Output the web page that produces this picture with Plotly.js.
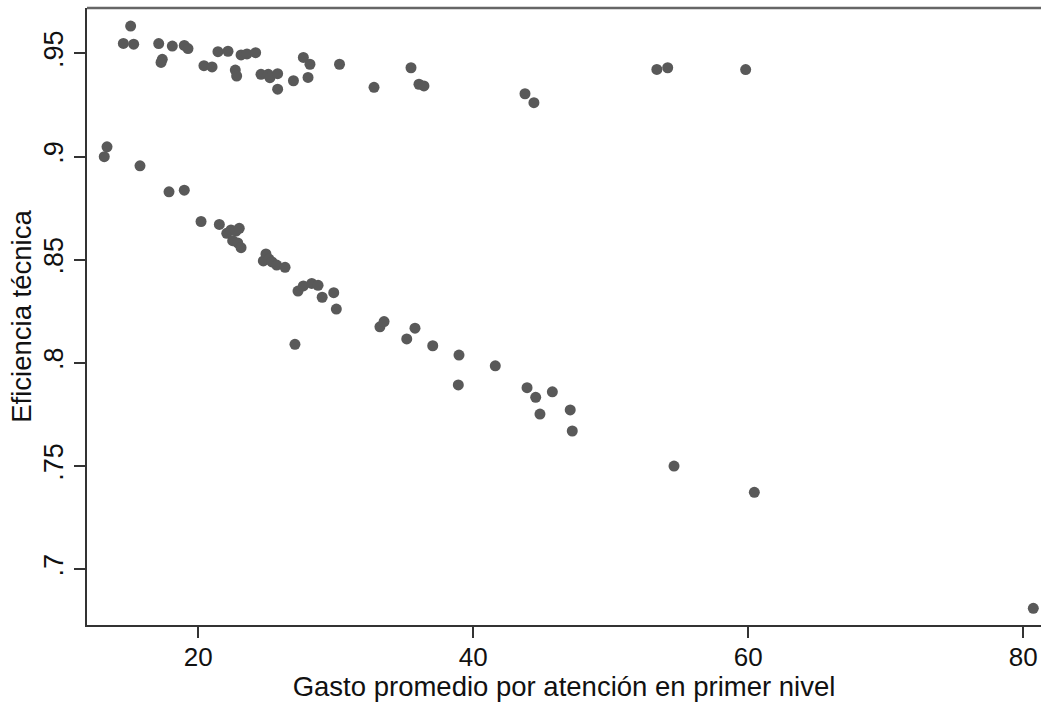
<!DOCTYPE html>
<html>
<head>
<meta charset="utf-8">
<script src="https://cdn.plot.ly/plotly-3.0.1.min.js"></script>
<style>
  html, body { margin: 0; padding: 0; background: #fff; }
  #chart { width: 1041px; height: 702px; }
</style>
</head>
<body>
<div id="chart"></div>
<script>
// Gasto promedio por atención en primer nivel (x) vs Eficiencia técnica (y)
const gasto = [
  15.08, 14.55, 15.30, 17.12, 18.11, 18.98, 19.25, 17.38, 17.29, 20.41,
  21.00, 21.43, 22.16, 23.11, 23.54, 24.17, 22.69, 22.79, 24.56, 25.09,
  25.21, 25.77, 25.77, 26.92, 27.64, 28.12, 27.98, 30.27, 32.78, 35.47,
  36.05, 36.41, 43.76, 44.41, 53.35, 54.14, 59.81,
  13.36, 13.16, 15.76, 17.87, 18.98, 20.20, 21.53, 22.07, 22.38, 22.74,
  22.98, 22.50, 22.87, 23.11, 24.92, 24.73, 25.14, 25.36, 25.70, 26.31,
  27.25, 27.64, 28.25, 28.71, 29.01, 29.85, 30.04, 27.03, 33.21, 33.51,
  35.16, 35.76, 37.05, 38.96, 38.91, 41.60, 43.91, 44.54, 45.75, 44.85,
  47.05, 47.20, 54.60, 60.44, 80.73
];
const eficiencia = [
  0.9632, 0.9548, 0.9544, 0.9547, 0.9535, 0.9538, 0.9523, 0.9471, 0.9456, 0.9440,
  0.9434, 0.9508, 0.9510, 0.9492, 0.9497, 0.9503, 0.9419, 0.9390, 0.9398, 0.9398,
  0.9382, 0.9401, 0.9326, 0.9367, 0.9480, 0.9447, 0.9383, 0.9447, 0.9335, 0.9430,
  0.9350, 0.9342, 0.9304, 0.9261, 0.9422, 0.9430, 0.9421,
  0.9047, 0.8999, 0.8955, 0.8829, 0.8837, 0.8685, 0.8671, 0.8628, 0.8644, 0.8639,
  0.8652, 0.8592, 0.8581, 0.8558, 0.8528, 0.8494, 0.8503, 0.8489, 0.8474, 0.8463,
  0.8348, 0.8373, 0.8385, 0.8376, 0.8318, 0.8340, 0.8261, 0.8090, 0.8175, 0.8200,
  0.8116, 0.8168, 0.8083, 0.8038, 0.7893, 0.7986, 0.7880, 0.7833, 0.7860, 0.7752,
  0.7772, 0.7670, 0.7500, 0.7373, 0.6811
];
const xTickVals = [20, 40, 60, 80];
const xTickText = ['20', '40', '60', '80'];
const yTickVals = [0.7, 0.75, 0.8, 0.85, 0.9, 0.95];
const yTickText = ['.7', '.75', '.8', '.85', '.9', '.95'];
const xTitle = 'Gasto promedio por atención en primer nivel';
const yTitle = 'Eficiencia técnica';

const font = 'Liberation Sans, Arial, sans-serif';

const trace = {
  x: gasto,
  y: eficiencia,
  type: 'scatter',
  mode: 'markers',
  marker: { color: '#595959', size: 11, line: { width: 0 } },
  hoverinfo: 'x+y'
};

const layout = {
  width: 1041,
  height: 702,
  paper_bgcolor: '#ffffff',
  plot_bgcolor: '#ffffff',
  showlegend: false,
  margin: { l: 87, r: 0, t: 8, b: 77, pad: 0 },
  font: { family: font, color: '#000000', size: 27 },
  xaxis: {
    range: [11.905, 81.29],
    tickvals: xTickVals,
    ticktext: xTickText,
    ticks: 'outside',
    ticklen: 11,
    tickwidth: 2,
    tickcolor: '#333333',
    showline: true,
    linecolor: '#333333',
    linewidth: 2,
    showgrid: false,
    zeroline: false,
    ticklabelstandoff: -3,
    tickfont: { family: font, size: 26, color: '#111111' },
    automargin: false,
    title: { text: xTitle, font: { family: font, size: 27.5, color: '#111111' }, standoff: 3 }
  },
  yaxis: {
    range: [0.6730, 0.97195],
    tickvals: yTickVals,
    ticktext: yTickText,
    tickangle: -90,
    ticks: 'outside',
    ticklen: 11,
    tickwidth: 2,
    tickcolor: '#333333',
    showline: true,
    linecolor: '#333333',
    linewidth: 2,
    showgrid: false,
    zeroline: false,
    tickfont: { family: font, size: 27, color: '#111111' },
    automargin: false,
    title: { text: yTitle, font: { family: font, size: 27.5, color: '#111111' }, standoff: 0 }
  },
  shapes: [
    { type: 'line', xref: 'paper', yref: 'paper', x0: 0, x1: 1, y0: 1, y1: 1,
      line: { color: '#666666', width: 2.5 } }
  ]
};

Plotly.newPlot('chart', [trace], layout, { displayModeBar: false, staticPlot: true });
</script>
</body>
</html>
